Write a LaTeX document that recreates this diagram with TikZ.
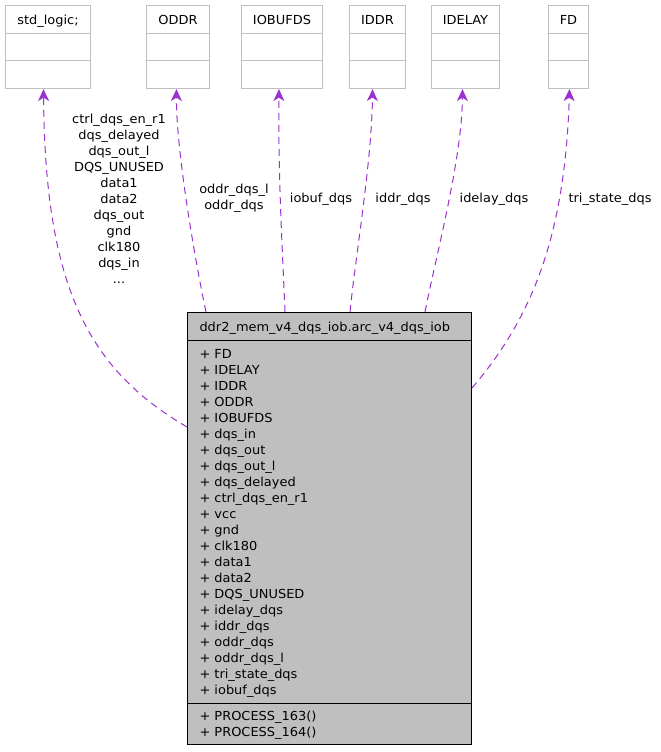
\documentclass[tikz,border=0pt]{standalone}
\usepackage{fontspec}
\setmainfont{DejaVu Sans}[FakeStretch=1.045]
\usepackage{xcolor}
\usepackage{tikz}
\usetikzlibrary{shapes,arrows.meta}

\definecolor{grey75}{RGB}{191,191,191}
\definecolor{darkorchid3}{RGB}{154,50,205}

% row with fixed height for the small class boxes
\newcommand{\classtitle}[1]{\rule[-8.4pt]{0pt}{26.7pt}#1}

\begin{document}
\begin{tikzpicture}[
    x=1pt, y=-1pt,
    font=\fontsize{12.4}{16}\selectfont,
    classbox/.style={rectangle split, rectangle split parts=3, draw=grey75, line width=1pt, fill=white,
        inner xsep=0pt, inner ysep=0pt, anchor=north west, align=center,
        rectangle split empty part height=26.7pt, rectangle split empty part depth=0pt},
    archbox/.style={rectangle split, rectangle split parts=3, draw=black, line width=1pt, fill=grey75,
        inner xsep=12pt, inner ysep=0pt, text width=260pt, align=left, anchor=north west},
    uses/.style={darkorchid3, line width=1pt, dash pattern=on 7pt off 5pt,
        -{Stealth[length=12pt,width=11pt,inset=3.5pt]}},
    elabel/.style={align=center, inner sep=0pt}
]
    \useasboundingbox (0,0) rectangle (661,752);

    % Used classes (top row)
    \node [classbox, minimum width=85pt] (stdlogic) at (5,5) {\classtitle{std\_logic;}\nodepart{two}\nodepart{three}};
    \node [classbox, minimum width=63pt] (oddr) at (146,5) {\classtitle{ODDR}\nodepart{two}\nodepart{three}};
    \node [classbox, minimum width=81pt] (iobufds) at (241,5) {\classtitle{IOBUFDS}\nodepart{two}\nodepart{three}};
    \node [classbox, minimum width=56pt] (iddr) at (349,5) {\classtitle{IDDR}\nodepart{two}\nodepart{three}};
    \node [classbox, minimum width=68pt] (idelay) at (431,5) {\classtitle{IDELAY}\nodepart{two}\nodepart{three}};
    \node [classbox, minimum width=40pt] (fd) at (548,5) {\classtitle{FD}\nodepart{two}\nodepart{three}};

    % Architecture class
    \node [archbox] (arch) at (187,312) {%
        \rule[-9pt]{0pt}{27pt}ddr2\_mem\_v4\_dqs\_iob.arc\_v4\_dqs\_iob
        \nodepart{two}
        \rule{0pt}{17pt}+ FD\\
        + IDELAY\\
        + IDDR\\
        + ODDR\\
        + IOBUFDS\\
        + dqs\_in\\
        + dqs\_out\\
        + dqs\_out\_l\\
        + dqs\_delayed\\
        + ctrl\_dqs\_en\_r1\\
        + vcc\\
        + gnd\\
        + clk180\\
        + data1\\
        + data2\\
        + DQS\_UNUSED\\
        + idelay\_dqs\\
        + iddr\_dqs\\
        + oddr\_dqs\\
        + oddr\_dqs\_l\\
        + tri\_state\_dqs\\
        + iobuf\_dqs\rule[-9pt]{0pt}{0pt}
        \nodepart{three}
        \rule{0pt}{16pt}+ PROCESS\_163()\\
        + PROCESS\_164()\rule[-8pt]{0pt}{0pt}};

    %--- Usage edges ---
    \draw [uses] ([yshift=-115pt]arch.north west) .. controls (90,370) and (45,290) .. ([xshift=-4.5pt]stdlogic.south);
    \draw [uses] ([xshift=19pt]arch.north west) .. controls (195,260) and (176,150) .. ([xshift=-1.5pt]oddr.south);
    \draw [uses] ([xshift=98pt]arch.north west) .. controls (283,260) and (278,180) .. ([xshift=-3pt]iobufds.south);
    \draw [uses] ([xshift=163pt]arch.north west) .. controls (355,260) and (372,160) .. ([xshift=-5pt]iddr.south);
    \draw [uses] ([xshift=238pt]arch.north west) .. controls (435,260) and (462,160) .. ([xshift=-3pt]idelay.south);
    \draw [uses] ([yshift=-76pt]arch.north east) .. controls (530,320) and (565,240) .. ([xshift=1pt]fd.south);

    %--- Edge labels ---
    \node [elabel] (lblstd) at (119,199) {ctrl\_dqs\_en\_r1\\dqs\_delayed\\dqs\_out\_l\\DQS\_UNUSED\\data1\\data2\\dqs\_out\\gnd\\clk180\\dqs\_in\\...};
    \node [elabel] (lbloddr) at (234,198) {oddr\_dqs\_l\\oddr\_dqs};
    \node [elabel] (lbliobuf) at (321,199) {iobuf\_dqs};
    \node [elabel] (lbliddr) at (403,199) {iddr\_dqs};
    \node [elabel] (lblidelay) at (494,199) {idelay\_dqs};
    \node [elabel] (lblfd) at (610,199) {tri\_state\_dqs};

\end{tikzpicture}
\end{document}
